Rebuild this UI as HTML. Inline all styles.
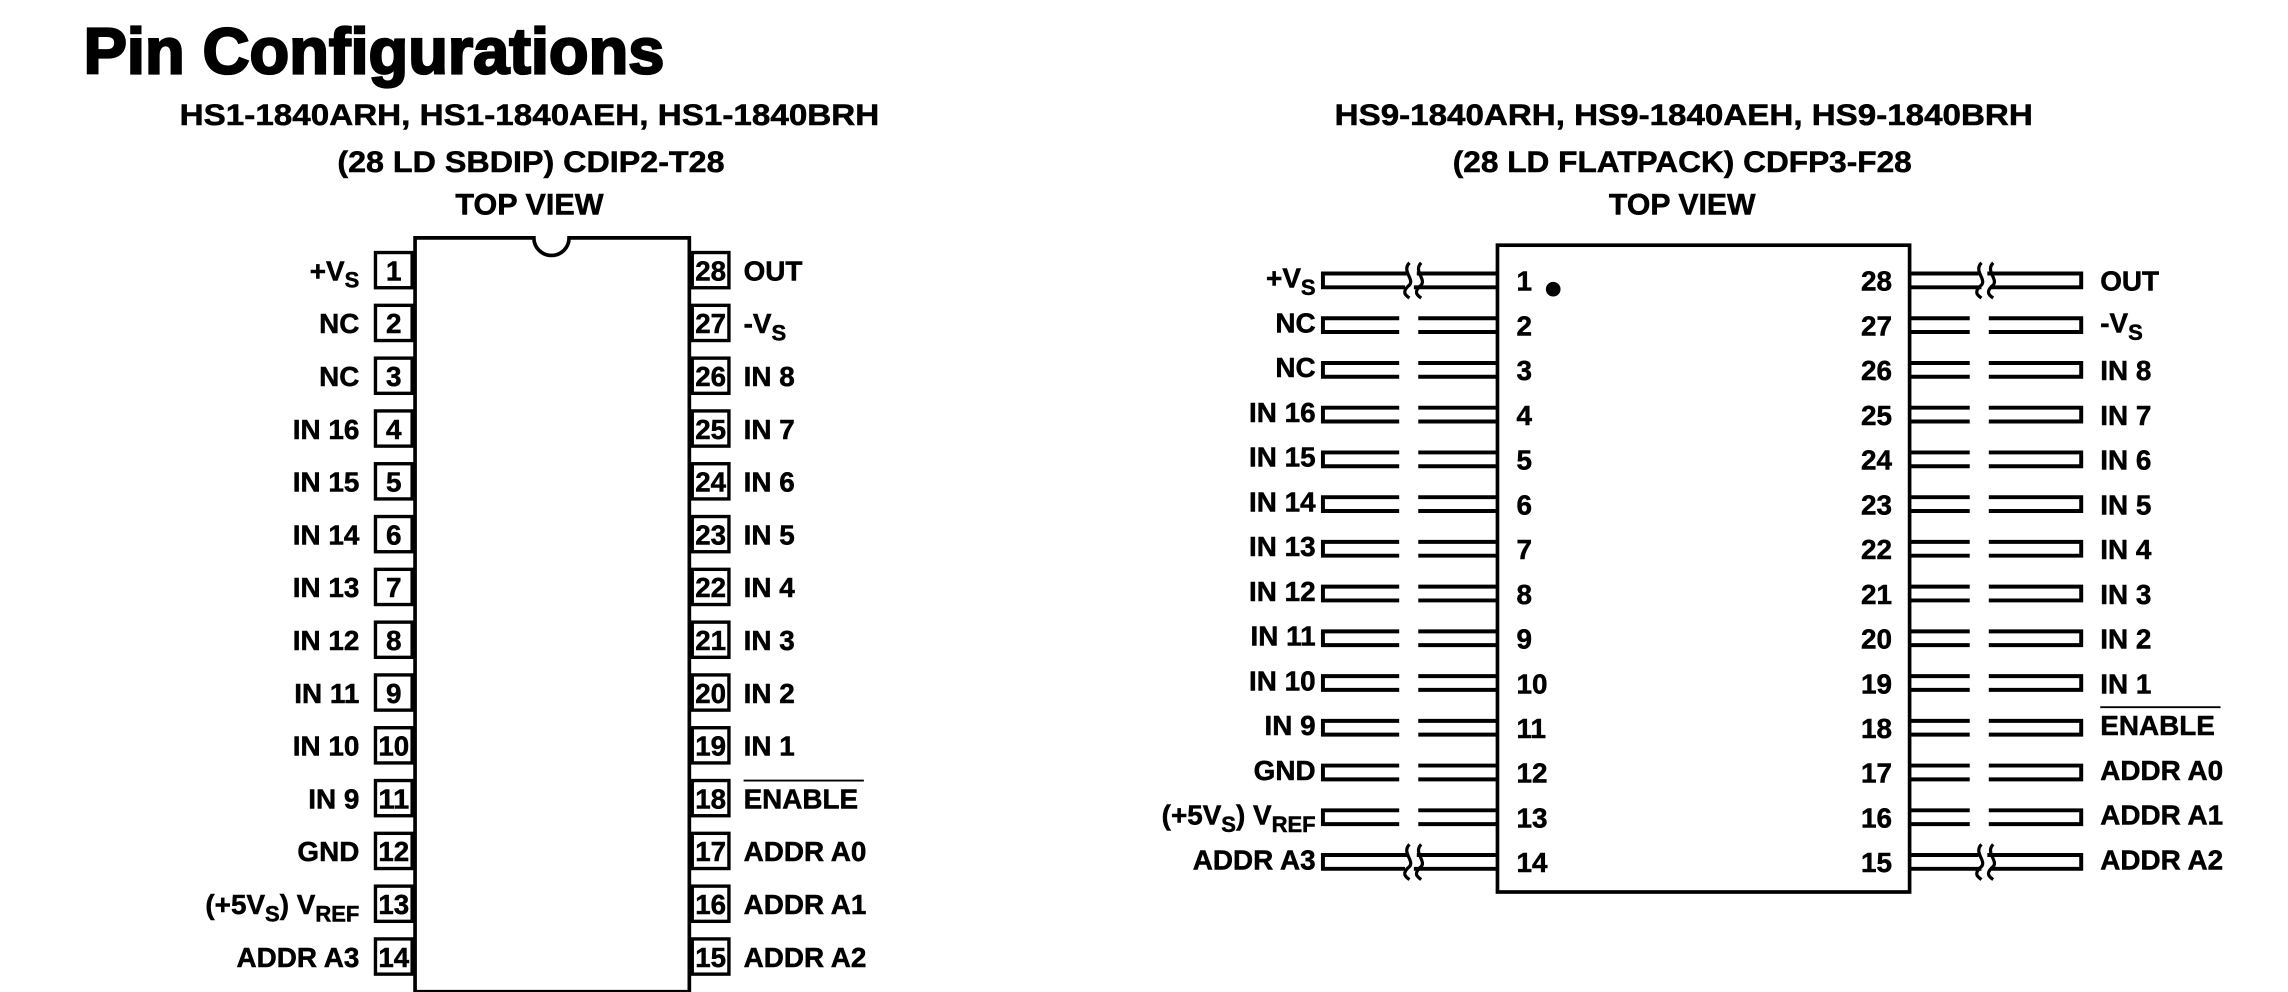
<!DOCTYPE html>
<html><head><meta charset="utf-8"><style>
html,body{margin:0;padding:0;background:#fff;}
svg{display:block;}
text{font-family:"Liberation Sans",Arial,sans-serif;font-weight:bold;fill:#000;stroke:#000;stroke-width:0.35;}
.t{font-size:19px;}
</style></head><body>
<svg width="2288" height="992" viewBox="0 0 1560 676" xmlns="http://www.w3.org/2000/svg">
<defs>
<g id="lL" fill="none" stroke="#000" stroke-width="2.7">
<path d="M954,-4.7 H902 V4.7 H954 M967,-4.7 H1021 M967,4.7 H1021"/>
</g>
<g id="lR" fill="none" stroke="#000" stroke-width="2.7">
<path d="M1356,-4.7 H1419 V4.7 H1356 M1343,-4.7 H1302 M1343,4.7 H1302"/>
</g>
<g id="wL" fill="none" stroke="#000" stroke-width="2.2">
<path d="M960,-4.7 H902 V4.7 H958 M966,-4.7 H1021 M964,4.7 H1021" stroke-width="2.7"/>
<path d="M961,-12 C955,-6 966,0 960,4 C956,8 958,10 961,12"/>
<path d="M969,-12 C963,-6 974,0 968,4 C964,8 966,10 969,12"/>
</g>
<g id="wR" fill="none" stroke="#000" stroke-width="2.2">
<path d="M1355,-4.7 H1419 V4.7 H1357 M1349,-4.7 H1302 M1351,4.7 H1302" stroke-width="2.7"/>
<path d="M1351,-12 C1345,-6 1356,0 1350,4 C1346,8 1348,10 1351,12"/>
<path d="M1359,-12 C1353,-6 1364,0 1358,4 C1354,8 1356,10 1359,12"/>
</g>
</defs>

<text x="57" y="50" font-size="44" textLength="396" lengthAdjust="spacingAndGlyphs" style="stroke-width:1.6">Pin Configurations</text>

<g class="t" text-anchor="middle">
<text x="361" y="85" font-size="20" textLength="477" lengthAdjust="spacingAndGlyphs">HS1-1840ARH, HS1-1840AEH, HS1-1840BRH</text>
<text x="362" y="117" font-size="20" textLength="264" lengthAdjust="spacingAndGlyphs">(28 LD SBDIP) CDIP2-T28</text>
<text x="361" y="146" font-size="20" textLength="101" lengthAdjust="spacingAndGlyphs">TOP VIEW</text>
<text x="1148" y="85" font-size="20" textLength="476" lengthAdjust="spacingAndGlyphs">HS9-1840ARH, HS9-1840AEH, HS9-1840BRH</text>
<text x="1147" y="117" font-size="20" textLength="313" lengthAdjust="spacingAndGlyphs">(28 LD FLATPACK) CDFP3-F28</text>
<text x="1147" y="146" font-size="20" textLength="100" lengthAdjust="spacingAndGlyphs">TOP VIEW</text>
</g>

<path d="M283,162 H364 A12,12 0 0 0 388,162 H470 V676 H283 Z" fill="none" stroke="#000" stroke-width="2.5"/>
<g fill="none" stroke="#000" stroke-width="2.3">
<rect x="256" y="172" width="25" height="24"/><rect x="256" y="208" width="25" height="24"/><rect x="256" y="244" width="25" height="24"/><rect x="256" y="280" width="25" height="24"/><rect x="256" y="316" width="25" height="24"/><rect x="256" y="352" width="25" height="24"/><rect x="256" y="388" width="25" height="24"/><rect x="256" y="424" width="25" height="24"/><rect x="256" y="460" width="25" height="24"/><rect x="256" y="496" width="25" height="24"/><rect x="256" y="532" width="25" height="24"/><rect x="256" y="568" width="25" height="24"/><rect x="256" y="604" width="25" height="24"/><rect x="256" y="640" width="25" height="24"/>
<rect x="472" y="172" width="25" height="24"/><rect x="472" y="208" width="25" height="24"/><rect x="472" y="244" width="25" height="24"/><rect x="472" y="280" width="25" height="24"/><rect x="472" y="316" width="25" height="24"/><rect x="472" y="352" width="25" height="24"/><rect x="472" y="388" width="25" height="24"/><rect x="472" y="424" width="25" height="24"/><rect x="472" y="460" width="25" height="24"/><rect x="472" y="496" width="25" height="24"/><rect x="472" y="532" width="25" height="24"/><rect x="472" y="568" width="25" height="24"/><rect x="472" y="604" width="25" height="24"/><rect x="472" y="640" width="25" height="24"/>
</g>
<g class="t" text-anchor="middle">
<text x="268.5" y="191">1</text><text x="268.5" y="227">2</text><text x="268.5" y="263">3</text><text x="268.5" y="299">4</text><text x="268.5" y="335">5</text><text x="268.5" y="371">6</text><text x="268.5" y="407">7</text><text x="268.5" y="443">8</text><text x="268.5" y="479">9</text>
<text x="268.5" y="515" textLength="21" lengthAdjust="spacingAndGlyphs">10</text><text x="268.5" y="551" textLength="21" lengthAdjust="spacingAndGlyphs">11</text><text x="268.5" y="587" textLength="21" lengthAdjust="spacingAndGlyphs">12</text><text x="268.5" y="623" textLength="21" lengthAdjust="spacingAndGlyphs">13</text><text x="268.5" y="659" textLength="21" lengthAdjust="spacingAndGlyphs">14</text>
<text x="484.5" y="191" textLength="21" lengthAdjust="spacingAndGlyphs">28</text><text x="484.5" y="227" textLength="21" lengthAdjust="spacingAndGlyphs">27</text><text x="484.5" y="263" textLength="21" lengthAdjust="spacingAndGlyphs">26</text><text x="484.5" y="299" textLength="21" lengthAdjust="spacingAndGlyphs">25</text><text x="484.5" y="335" textLength="21" lengthAdjust="spacingAndGlyphs">24</text><text x="484.5" y="371" textLength="21" lengthAdjust="spacingAndGlyphs">23</text><text x="484.5" y="407" textLength="21" lengthAdjust="spacingAndGlyphs">22</text><text x="484.5" y="443" textLength="21" lengthAdjust="spacingAndGlyphs">21</text><text x="484.5" y="479" textLength="21" lengthAdjust="spacingAndGlyphs">20</text><text x="484.5" y="515" textLength="21" lengthAdjust="spacingAndGlyphs">19</text><text x="484.5" y="551" textLength="21" lengthAdjust="spacingAndGlyphs">18</text><text x="484.5" y="587" textLength="21" lengthAdjust="spacingAndGlyphs">17</text><text x="484.5" y="623" textLength="21" lengthAdjust="spacingAndGlyphs">16</text><text x="484.5" y="659" textLength="21" lengthAdjust="spacingAndGlyphs">15</text>
</g>
<g class="t" text-anchor="end">
<text x="245" y="191">+V<tspan font-size="15" dy="5">S</tspan></text>
<text x="245" y="227">NC</text><text x="245" y="263">NC</text>
<text x="245" y="299">IN 16</text><text x="245" y="335">IN 15</text><text x="245" y="371">IN 14</text><text x="245" y="407">IN 13</text><text x="245" y="443">IN 12</text><text x="245" y="479">IN 11</text><text x="245" y="515">IN 10</text><text x="245" y="551">IN 9</text><text x="245" y="587">GND</text>
<text x="245" y="623">(+5V<tspan font-size="15" dy="5">S</tspan><tspan dy="-5">) V</tspan><tspan font-size="15" dy="5">REF</tspan></text>
<text x="245" y="659">ADDR A3</text>
</g>
<g class="t">
<text x="507" y="191">OUT</text>
<text x="507" y="227">-V<tspan font-size="15" dy="5">S</tspan></text>
<text x="507" y="263">IN 8</text><text x="507" y="299">IN 7</text><text x="507" y="335">IN 6</text><text x="507" y="371">IN 5</text><text x="507" y="407">IN 4</text><text x="507" y="443">IN 3</text><text x="507" y="479">IN 2</text><text x="507" y="515">IN 1</text>
<text x="507" y="551">ENABLE</text>
<text x="507" y="587">ADDR A0</text><text x="507" y="623">ADDR A1</text><text x="507" y="659">ADDR A2</text>
</g>
<line x1="507" y1="532" x2="589" y2="532" stroke="#000" stroke-width="1.3"/>

<rect x="1021" y="167" width="281" height="441" fill="none" stroke="#000" stroke-width="2.5"/>
<circle cx="1059" cy="197" r="5" fill="#000"/>
<use href="#wL" transform="translate(0,191)"/>
<use href="#lL" transform="translate(0,221.5)"/>
<use href="#lL" transform="translate(0,252)"/>
<use href="#lL" transform="translate(0,282.5)"/>
<use href="#lL" transform="translate(0,313)"/>
<use href="#lL" transform="translate(0,343.5)"/>
<use href="#lL" transform="translate(0,374)"/>
<use href="#lL" transform="translate(0,404.5)"/>
<use href="#lL" transform="translate(0,435)"/>
<use href="#lL" transform="translate(0,465.5)"/>
<use href="#lL" transform="translate(0,496)"/>
<use href="#lL" transform="translate(0,526.5)"/>
<use href="#lL" transform="translate(0,557)"/>
<use href="#wL" transform="translate(0,587.5)"/>
<use href="#wR" transform="translate(0,191)"/>
<use href="#lR" transform="translate(0,221.5)"/>
<use href="#lR" transform="translate(0,252)"/>
<use href="#lR" transform="translate(0,282.5)"/>
<use href="#lR" transform="translate(0,313)"/>
<use href="#lR" transform="translate(0,343.5)"/>
<use href="#lR" transform="translate(0,374)"/>
<use href="#lR" transform="translate(0,404.5)"/>
<use href="#lR" transform="translate(0,435)"/>
<use href="#lR" transform="translate(0,465.5)"/>
<use href="#lR" transform="translate(0,496)"/>
<use href="#lR" transform="translate(0,526.5)"/>
<use href="#lR" transform="translate(0,557)"/>
<use href="#wR" transform="translate(0,587.5)"/>
<g class="t">
<text x="1034" y="198">1</text><text x="1034" y="228.5">2</text><text x="1034" y="259">3</text><text x="1034" y="289.5">4</text><text x="1034" y="320">5</text><text x="1034" y="350.5">6</text><text x="1034" y="381">7</text><text x="1034" y="411.5">8</text><text x="1034" y="442">9</text><text x="1034" y="472.5">10</text><text x="1034" y="503">11</text><text x="1034" y="533.5">12</text><text x="1034" y="564">13</text><text x="1034" y="594.5">14</text>
</g>
<g class="t" text-anchor="end">
<text x="1290" y="198">28</text><text x="1290" y="228.5">27</text><text x="1290" y="259">26</text><text x="1290" y="289.5">25</text><text x="1290" y="320">24</text><text x="1290" y="350.5">23</text><text x="1290" y="381">22</text><text x="1290" y="411.5">21</text><text x="1290" y="442">20</text><text x="1290" y="472.5">19</text><text x="1290" y="503">18</text><text x="1290" y="533.5">17</text><text x="1290" y="564">16</text><text x="1290" y="594.5">15</text>
</g>
<g class="t" text-anchor="end">
<text x="897" y="196">+V<tspan font-size="15" dy="5">S</tspan></text>
<text x="897" y="226.5">NC</text><text x="897" y="257">NC</text>
<text x="897" y="287.5">IN 16</text><text x="897" y="318">IN 15</text><text x="897" y="348.5">IN 14</text><text x="897" y="379">IN 13</text><text x="897" y="409.5">IN 12</text><text x="897" y="440">IN 11</text><text x="897" y="470.5">IN 10</text><text x="897" y="501">IN 9</text><text x="897" y="531.5">GND</text>
<text x="897" y="562">(+5V<tspan font-size="15" dy="5">S</tspan><tspan dy="-5">) V</tspan><tspan font-size="15" dy="5">REF</tspan></text>
<text x="897" y="592.5">ADDR A3</text>
</g>
<g class="t">
<text x="1432" y="198">OUT</text>
<text x="1432" y="226.5">-V<tspan font-size="15" dy="5">S</tspan></text>
<text x="1432" y="259">IN 8</text><text x="1432" y="289.5">IN 7</text><text x="1432" y="320">IN 6</text><text x="1432" y="350.5">IN 5</text><text x="1432" y="381">IN 4</text><text x="1432" y="411.5">IN 3</text><text x="1432" y="442">IN 2</text><text x="1432" y="472.5">IN 1</text>
<text x="1432" y="501">ENABLE</text>
<text x="1432" y="531.5">ADDR A0</text><text x="1432" y="562">ADDR A1</text><text x="1432" y="592.5">ADDR A2</text>
</g>
<line x1="1432" y1="482" x2="1514" y2="482" stroke="#000" stroke-width="1.3"/>
</svg>
</body></html>
